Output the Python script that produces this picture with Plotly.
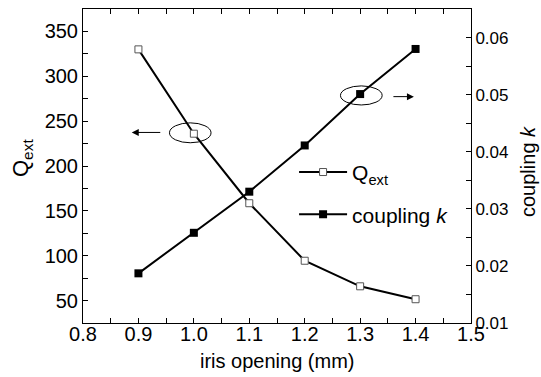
import plotly.graph_objects as go

iris = [0.9, 1.0, 1.1, 1.2, 1.3, 1.4]
q_ext = [330, 236, 158.5, 94.4, 65.9, 51.5]
coupling_k = [0.0187, 0.0258, 0.0330, 0.0411, 0.0501, 0.0580]

FONT = "Liberation Sans, Arial, sans-serif"

fig = go.Figure()
fig.add_trace(go.Scatter(
    x=iris, y=q_ext, name="Q<sub>ext</sub>", mode="lines+markers",
    line=dict(color="black", width=2),
    marker=dict(symbol="square", size=7, color="white", line=dict(color="#555", width=1)),
    legendgroup="a", yaxis="y"))
fig.add_trace(go.Scatter(
    x=iris, y=coupling_k, name="coupling <i>k</i>", mode="lines+markers",
    line=dict(color="black", width=2),
    marker=dict(symbol="square", size=8, color="black", line=dict(color="black", width=0)),
    legendgroup="b", yaxis="y2"))

axis_common = dict(showline=True, linecolor="black", linewidth=1, ticks="inside",
                   ticklen=5, tickcolor="black", showgrid=False, zeroline=False,
                   automargin=False,
                   tickfont=dict(family=FONT, size=20, color="black"))

fig.update_layout(
    width=541, height=377,
    margin=dict(l=83, r=70, t=9, b=54),
    paper_bgcolor="white", plot_bgcolor="white",
    font=dict(family=FONT, size=20, color="black"),
    xaxis=dict(**axis_common, range=[0.8, 1.5], dtick=0.1, tick0=0.8, tickformat=".1f",
               mirror="ticks", ticklabelstandoff=-7,
               minor=dict(dtick=0.05, ticks="inside", ticklen=5, tickcolor="black")),
    yaxis=dict(**axis_common, range=[25, 375], dtick=50, tick0=0,
               minor=dict(dtick=25, ticks="inside", ticklen=5, tickcolor="black")),
    yaxis2=dict(**{**axis_common, "tickfont": dict(family=FONT, size=17, color="black")},
                overlaying="y", side="right", range=[0.01, 0.065], dtick=0.01, tick0=0,
                tickformat=".2f",
                minor=dict(dtick=0.005, ticks="inside", ticklen=5, tickcolor="black")),
    legend=dict(x=0.544, y=0.545, xanchor="left", yanchor="top", bgcolor="rgba(0,0,0,0)",
                font=dict(family=FONT, size=21), tracegroupgap=12, borderwidth=0,
                itemwidth=48),
    showlegend=True,
)

# axis titles
fig.add_annotation(text="iris opening (mm)", xref="paper", yref="paper", x=0.5, y=0,
                   xanchor="center", yanchor="middle", yshift=-38, showarrow=False,
                   font=dict(family=FONT, size=20))
fig.add_annotation(text="Q<sub>ext</sub>", xref="paper", yref="paper", x=0, y=0.5,
                   xanchor="center", yanchor="middle", xshift=-61, yshift=8, textangle=-90,
                   showarrow=False, font=dict(family=FONT, size=22))
fig.add_annotation(text="coupling <i>k</i>", xref="paper", yref="paper", x=1, y=0.5,
                   xanchor="center", yanchor="middle", xshift=57, yshift=-6, textangle=-90,
                   showarrow=False, font=dict(family=FONT, size=20))

# ellipses highlighting the axis association
fig.add_shape(type="circle", xref="x", yref="y", x0=0.956, x1=1.031, y0=225.9, y1=248.1,
              line=dict(color="black", width=1))
fig.add_shape(type="circle", xref="x", yref="y2", x0=1.2645, x1=1.3397, y0=0.04819, y1=0.05153,
              line=dict(color="black", width=1))

fig.add_annotation(x=0.888, y=237.4, xref="x", yref="y", ax=30, ay=0, text="",
                   showarrow=True, arrowhead=2, arrowsize=1.4, arrowwidth=1, arrowcolor="black")
fig.add_annotation(x=1.397, y=0.04965, xref="x", yref="y2", ax=-22, ay=0, text="",
                   showarrow=True, arrowhead=2, arrowsize=1.4, arrowwidth=1, arrowcolor="black")

# remove the default 8px page margin so the figure fills the window exactly
fig.write_html("out.html", config={"displayModeBar": False},
               post_script="document.body.style.margin='0';")
